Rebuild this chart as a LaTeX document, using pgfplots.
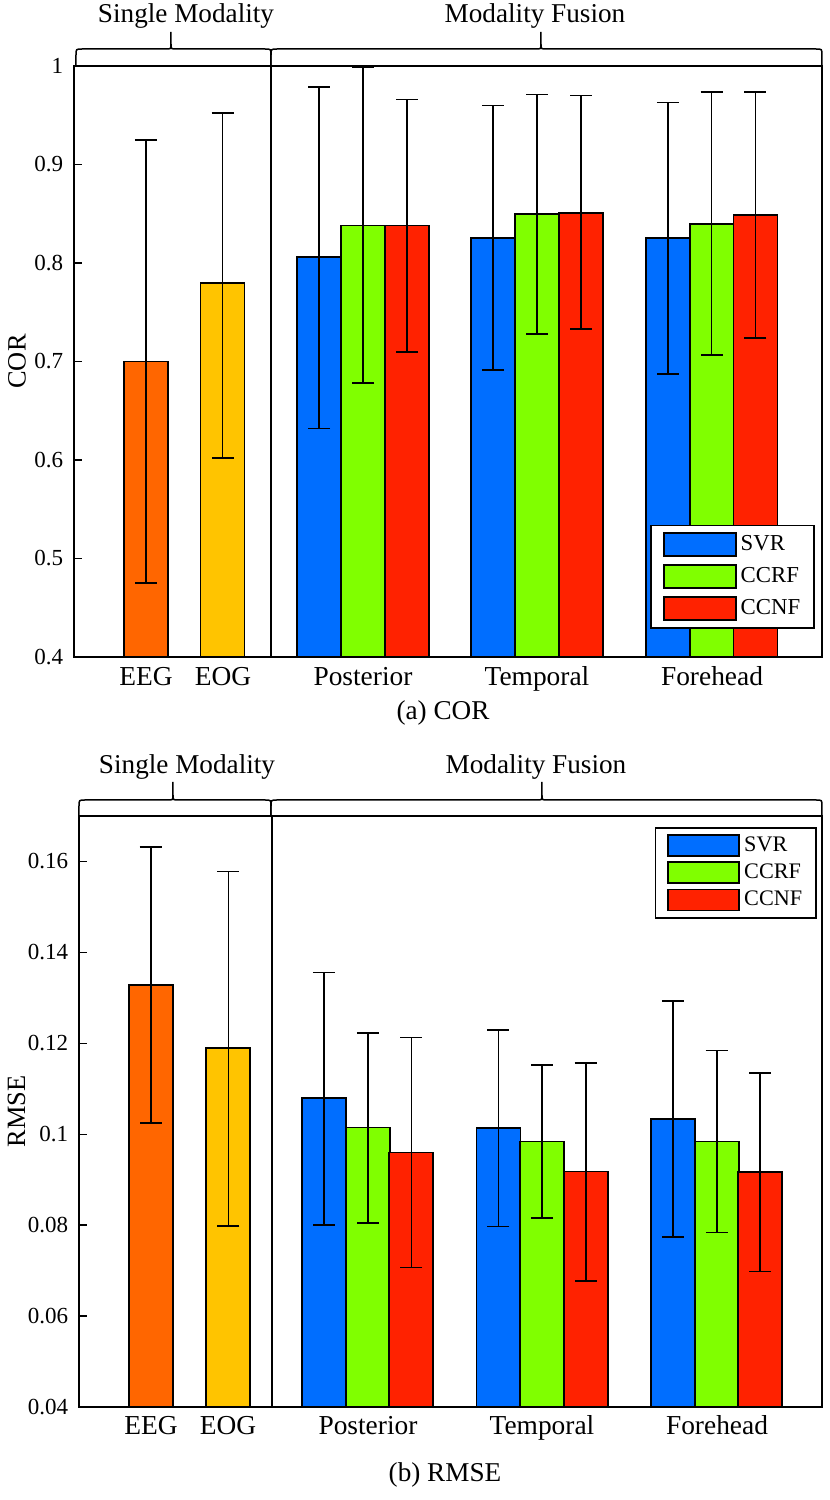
\documentclass[border=0pt]{standalone}
\usepackage{fontspec}
\setmainfont{Liberation Serif}
\usepackage{pgfplots}
\pgfplotsset{compat=1.18}
\definecolor{cEEG}{RGB}{255,102,0}
\definecolor{cEOG}{RGB}{255,196,0}
\definecolor{cSVR}{RGB}{0,110,255}
\definecolor{cCCRF}{RGB}{128,255,0}
\definecolor{cCCNF}{RGB}{255,34,0}
\newcommand{\fs}[1]{\fontsize{#1}{#1}\selectfont}
\pgfplotsset{
  barbase/.style={ybar, bar width=44, bar shift=0, draw=black, line width=0.9bp,
    error bars/.cd, y dir=both, y explicit,
    error bar style={black, line width=0.8bp},
    error mark=-,
    error mark options={rotate=90, black, line width=0.9bp, mark size=5.5bp}},
  legA/.style={legend image code/.code={\draw[##1,/tikz/.cd,draw=black,line width=0.9bp] (0bp,-5.75bp) rectangle (36bp,5.75bp);}},
  legB/.style={legend image code/.code={\draw[##1,/tikz/.cd,draw=black,line width=0.9bp] (0bp,-5.25bp) rectangle (35.5bp,5.25bp);}},
  common/.style={
    scale only axis, anchor=south west, height=295.5bp,
    axis line style={black, line width=0.8bp},
    tick align=inside, ytick pos=left,
    major tick length=3.8bp,
    ytick style={black, line width=0.7bp},
    xtick style={draw=none},
    xtick={72,149,289,463,638},
    xticklabels={EEG,EOG,Posterior,Temporal,Forehead},
    yticklabel style={font=\fs{11.5bp}, xshift=-1.9bp},
    ylabel style={font=\fs{13.2bp}, anchor=center},
    legend cell align=left,
  },
}
\begin{document}
\begin{tikzpicture}
\path[use as bounding box] (0,0) rectangle (415bp,-750bp);

% ---------------- (a) COR ----------------
\begin{axis}[common,
  at={(37bp,-328.5bp)}, width=374bp,
  xmin=0, xmax=748, ymin=0.4, ymax=1,
  ytick={0.4,0.5,0.6,0.7,0.8,0.9,1},
  yticklabels={0.4,0.5,0.6,0.7,0.8,0.9,1},
  xticklabel style={font=\fs{13.7bp}, anchor=base, yshift=-14bp},
  ylabel={COR},
  ylabel style={at={(axis description cs:-0.0762,0.5)}},
  legA,
  legend style={at={(1,0)}, anchor=south east, xshift=-3.5bp, yshift=14bp,
    draw=black, line width=0.8bp, font=\fs{11.4bp},
    inner xsep=6bp, inner ysep=3.5bp, row sep=3.6bp, column sep=1bp,
    nodes={inner sep=1bp}},
]
\addplot[fill=cEEG, forget plot, barbase] coordinates {(71.8,0.700) +=(0,0.225) -=(0,0.225)};
\addplot[fill=cEOG, forget plot, barbase] coordinates {(148.5,0.780) +=(0,0.172) -=(0,0.178)};
\addplot[black, line width=0.8bp, forget plot] coordinates {(196.7,0.4) (196.7,1)};
\addplot[fill=cSVR, barbase] coordinates {
  (245,0.806) +=(0,0.173) -=(0,0.174)
  (419.2,0.825) +=(0,0.135) -=(0,0.134)
  (593.9,0.825) +=(0,0.138) -=(0,0.138)};
\addlegendentry{SVR}
\addplot[fill=cCCRF, barbase] coordinates {
  (289,0.838) +=(0,0.161) -=(0,0.160)
  (463,0.850) +=(0,0.121) -=(0,0.122)
  (637.6,0.840) +=(0,0.134) -=(0,0.133)};
\addlegendentry{CCRF}
\addplot[fill=cCCNF, barbase] coordinates {
  (333,0.838) +=(0,0.128) -=(0,0.128)
  (507,0.851) +=(0,0.119) -=(0,0.118)
  (681.4,0.849) +=(0,0.125) -=(0,0.125)};
\addlegendentry{CCNF}
\end{axis}

% ---------------- (b) RMSE ----------------
\begin{axis}[common,
  at={(39.5bp,-703.5bp)}, width=371.5bp,
  xmin=0, xmax=743, ymin=0.04, ymax=0.17,
  ytick={0.04,0.06,0.08,0.1,0.12,0.14,0.16},
  yticklabels={0.04,0.06,0.08,0.1,0.12,0.14,0.16},
  xticklabel style={font=\fs{13.7bp}, anchor=base, yshift=-13.5bp},
  ylabel={RMSE},
  ylabel style={at={(axis description cs:-0.0841,0.5)}},
  legB,
  legend style={at={(1,1)}, anchor=north east, xshift=-2.5bp, yshift=-5.5bp,
    draw=black, line width=0.8bp, font=\fs{11.1bp},
    inner xsep=6bp, inner ysep=3.2bp, row sep=2.2bp, column sep=1bp,
    nodes={inner sep=1bp}},
]
\addplot[fill=cEEG, forget plot, barbase] coordinates {(71.7,0.1329) +=(0,0.0302) -=(0,0.0305)};
\addplot[fill=cEOG, forget plot, barbase] coordinates {(149.3,0.1189) +=(0,0.0389) -=(0,0.0391)};
\addplot[black, line width=0.8bp, forget plot] coordinates {(192.7,0.04) (192.7,0.17)};
\addplot[fill=cSVR, barbase] coordinates {
  (244.9,0.1079) +=(0,0.0277) -=(0,0.0279)
  (419.4,0.1013) +=(0,0.0216) -=(0,0.0216)
  (593.8,0.1033) +=(0,0.0260) -=(0,0.0259)};
\addlegendentry{SVR}
\addplot[fill=cCCRF, barbase] coordinates {
  (288.8,0.1015) +=(0,0.0208) -=(0,0.0210)
  (463.2,0.0984) +=(0,0.0169) -=(0,0.0168)
  (637.7,0.0984) +=(0,0.0200) -=(0,0.0200)};
\addlegendentry{CCRF}
\addplot[fill=cCCNF, barbase] coordinates {
  (332.3,0.0960) +=(0,0.0253) -=(0,0.0253)
  (506.7,0.0918) +=(0,0.0239) -=(0,0.0240)
  (681.2,0.0917) +=(0,0.0217) -=(0,0.0219)};
\addlegendentry{CCNF}
\end{axis}

% ---------------- braces, headers, captions (pixel grid) ----------------
\begin{scope}[x=0.5bp, y=-0.5bp, line width=0.75bp]
  \draw (76,66) -- (76,55) .. controls (76,49) .. (82,49) -- (166,49)
        .. controls (171,49) .. (171,44) -- (171,32) -- (171,44)
        .. controls (171,49) .. (176,49) -- (265,49) .. controls (271,49) .. (271,55) -- (271,66);
  \draw (271,66) -- (271,55) .. controls (271,49) .. (277,49) -- (536,49)
        .. controls (541,49) .. (541,44) -- (541,32) -- (541,44)
        .. controls (541,49) .. (546,49) -- (816,49) .. controls (822,49) .. (822,55) -- (822,66);
  \node[anchor=base, font=\fs{13.6bp}, inner sep=0] at (186,22.7) {Single Modality};
  \node[anchor=base, font=\fs{13.6bp}, inner sep=0] at (535,22.7) {Modality Fusion};
  \node[anchor=base, font=\fs{13.6bp}, inner sep=0] at (443,720) {(a) COR};

  \draw (79,816) -- (79,806) .. controls (79,800) .. (85,800) -- (168,800)
        .. controls (173,800) .. (173,795) -- (173,782) -- (173,795)
        .. controls (173,800) .. (178,800) -- (265,800) .. controls (271,800) .. (271,806) -- (271,816);
  \draw (271,816) -- (271,806) .. controls (271,800) .. (277,800) -- (537,800)
        .. controls (542,800) .. (542,795) -- (542,782) -- (542,795)
        .. controls (542,800) .. (547,800) -- (816,800) .. controls (822,800) .. (822,806) -- (822,816);
  \node[anchor=base, font=\fs{13.6bp}, inner sep=0] at (187,774) {Single Modality};
  \node[anchor=base, font=\fs{13.6bp}, inner sep=0] at (536,774) {Modality Fusion};
  \node[anchor=base, font=\fs{13.6bp}, inner sep=0] at (445,1482) {(b) RMSE};
\end{scope}
\end{tikzpicture}
\end{document}
